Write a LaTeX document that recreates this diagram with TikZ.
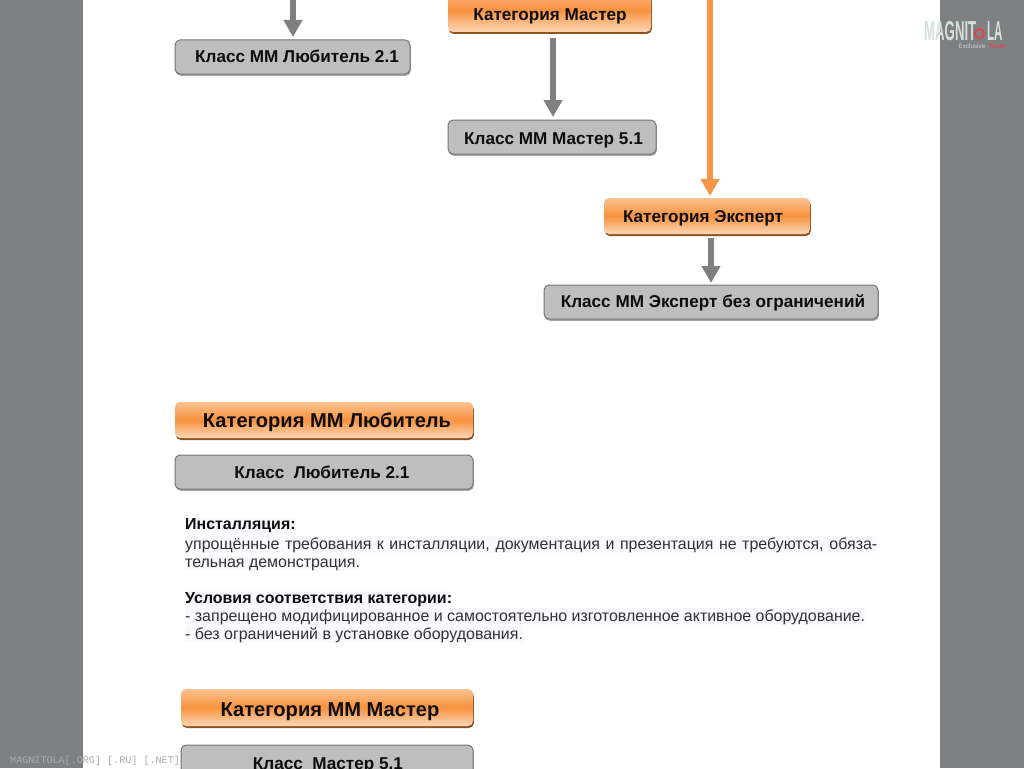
\documentclass[tikz,border=0pt]{standalone}
\usepackage{fontspec}
\setmainfont{Liberation Sans}
\newfontfamily\monof{Liberation Mono}
\usetikzlibrary{arrows.meta,shadows}
\definecolor{pagegray}{HTML}{7F8082}
\definecolor{boxgray}{HTML}{BEBEBE}
\definecolor{edgegray}{HTML}{757575}
\definecolor{arrgray}{HTML}{808080}
\definecolor{arrorange}{HTML}{F79646}
\definecolor{orA}{HTML}{F9C391}
\definecolor{orB}{HTML}{F8923F}
\definecolor{orC}{HTML}{FBD8B8}
\definecolor{oredge}{HTML}{8F5420}
\definecolor{txt}{HTML}{0D0D0D}
\definecolor{logopale}{HTML}{D3E1DB}
\definecolor{logored}{HTML}{D9474F}
\definecolor{wmgray}{HTML}{A9ACAC}
\definecolor{hilite}{HTML}{F9F9FD}
\tikzset{
  x=1pt,y=-1pt,
  classbox/.style={rounded corners=5pt,draw=edgegray,line width=1pt,fill=boxgray,
    drop shadow={shadow xshift=0.8pt,shadow yshift=-1.8pt,fill=black!35,opacity=1}},
  catbox/.style={rounded corners=5pt,top color=orA,bottom color=orC,middle color=orB,
    drop shadow={shadow xshift=0.8pt,shadow yshift=-2pt,fill=oredge,opacity=1}},
  label/.style={anchor=base,font=\bfseries\fontsize{17.15}{17}\selectfont,text=txt,inner sep=0pt},
  biglabel/.style={anchor=base,font=\bfseries\fontsize{20.1}{20}\selectfont,text=txt,inner sep=0pt},
  bodyline/.style={anchor=base west,font=\fontsize{15.95}{18}\selectfont,text=txt!85!white,inner xsep=0pt,inner ysep=1pt,fill=hilite},
  bodyhead/.style={anchor=base west,font=\bfseries\fontsize{15.95}{18}\selectfont,text=txt,inner xsep=0pt,inner ysep=1pt,fill=hilite},
  grayarrow/.style={draw=arrgray,line width=6.4pt,-{Triangle[length=17pt,width=18pt]}},
  orangearrow/.style={draw=arrorange,line width=6.6pt,-{Triangle[length=17pt,width=18pt]}},
}
\newcommand{\boxat}[6]{% style, name, x0,y0,x1,y1
  \path[#1] (#3,#4) rectangle (#5,#6);
  \coordinate (#2) at ({(#3+#5)/2},#4);}
\begin{document}
\begin{tikzpicture}
\useasboundingbox (0,0) rectangle (1024,768);
\begin{scope}
\clip (0,0) rectangle (1024,768);
\fill[pagegray] (0,0) rectangle (1024,768);
\fill[white] (83,0) rectangle (940,768);

% boxes
\boxat{classbox}{bLub}{175}{40}{410}{74}
\boxat{catbox}{bMasC}{448}{-12}{651}{32}
\boxat{classbox}{bMas}{448}{120}{656}{154}
\boxat{catbox}{bExpC}{604}{198}{810}{234}
\boxat{classbox}{bExp}{544}{285}{878}{319}
\boxat{catbox}{bigLubC}{175}{402}{473}{438}
\boxat{classbox}{bigLub}{175}{455}{473}{489}
\boxat{catbox}{bigMasC}{181}{689}{473}{726}
\boxat{classbox}{bigMas}{181}{745}{473}{790}

% labels
\node[label] (tLub) at (297,62.5) {Класс ММ Любитель 2.1};
\node[label] (tMasC) at (550,21) {Категория Мастер};
\node[label] (tMas) at (553.5,144) {Класс ММ Мастер 5.1};
\node[label] (tExpC) at (703,222) {Категория Эксперт};
\node[label] (tExp) at (713,307) {Класс ММ Эксперт без ограничений};
\node[biglabel] (tBigLubC) at (327,427) {Категория ММ Любитель};
\node[label] (tBigLub) at (322,478) {Класс\ \ Любитель 2.1};
\node[biglabel] (tBigMasC) at (330,716.5) {Категория ММ Мастер};
\node[label] (tBigMas) at (328,769) {Класс\ \ Мастер 5.1};

% connectors
\coordinate (topA) at (293,-2);
\coordinate (topB) at (710,-2);
\coordinate (underMas) at (553,38);
\coordinate (underExp) at (711,238);
\coordinate (endLub) at (293,37);
\coordinate (endMas) at (553,117);
\coordinate (endExpC) at (710,196);
\coordinate (endExp) at (711,283);
\draw[grayarrow] (topA) -- (endLub);
\draw[grayarrow] (underMas) -- (endMas);
\draw[orangearrow] (topB) -- (endExpC);
\draw[grayarrow] (underExp) -- (endExp);

% body text
\node[bodyhead] (l1) at (185,529) {Инсталляция:};
\node[bodyline] (l2) at (185,549) {\makebox[692pt][s]{упрощённые требования к инсталляции, документация и презентация не требуются, обяза-}};
\node[bodyline] (l3) at (185,567) {тельная демонстрация.};
\node[bodyhead] (l4) at (185,603) {Условия соответствия категории:};
\node[bodyline] (l5) at (185,621) {- запрещено модифицированное и самостоятельно изготовленное активное оборудование.};
\node[bodyline] (l6) at (185,639) {- без ограничений в установке оборудования.};

% logo
\node[anchor=base west,inner sep=0pt,text=logopale] (logoA) at (924,41)
  {\scalebox{0.6}[1.25]{\bfseries\fontsize{22}{22}\selectfont MAGNIT}};
\node[anchor=base west,inner sep=0pt,text=logopale] (logoB) at (987,41)
  {\scalebox{0.52}[1.25]{\bfseries\fontsize{22}{22}\selectfont LA}};
\draw[logored,line width=2pt] (979.5,33.5) circle (4.5);
\node[anchor=base east,inner sep=0pt,text=white!65!pagegray] (logoC) at (985.5,48.5) {\fontsize{6.3}{6}\selectfont Exclusive};
\node[anchor=base west,inner sep=0pt,text=logored] (logoD) at (989,48.5) {\bfseries\fontsize{6.3}{6}\selectfont Team};

% watermark
\node[anchor=base west,inner sep=0pt,text=wmgray] (wm) at (10,763)
  {\monof\fontsize{10.1}{10}\selectfont MAGNITOLA[.ORG] [.RU] [.NET]};
\end{scope}
\end{tikzpicture}
\end{document}
